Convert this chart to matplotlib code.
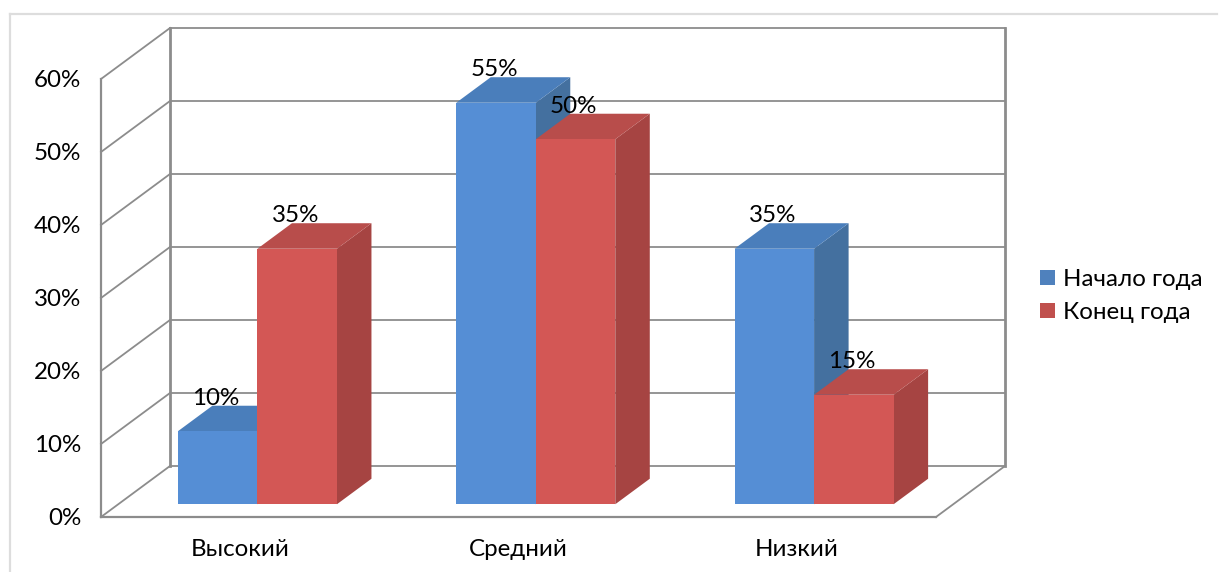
import matplotlib

matplotlib.use("Agg")
import matplotlib.pyplot as plt
from matplotlib.lines import Line2D
from matplotlib.patches import Patch, Polygon

plt.rcParams["font.family"] = ["Lato", "Noto Sans", "DejaVu Sans"]

categories = ["Высокий", "Средний", "Низкий"]
series_names = ["Начало года", "Конец года"]
start_of_year = [10, 55, 35]
end_of_year = [35, 50, 15]
value_ticks = [0, 10, 20, 30, 40, 50, 60]

# oblique projection: one unit of depth moves this far in data units
DEPTH_X = 0.248
DEPTH_Y = 6.99
BAR_WIDTH = 1 / 3.5
FONT_SIZE = 17.4
GRID = "#8c8c8c"
FACES = [
    {"front": "#558ed5", "top": "#4a7ebb", "side": "#44709f", "key": "#4f81bd"},
    {"front": "#d35755", "top": "#b84d4b", "side": "#a64442", "key": "#c0504d"},
]


def project(x, value, depth):
    return x + depth * DEPTH_X, value + depth * DEPTH_Y


def draw_line(ax, a, b, width=1.3, color=GRID):
    ax.add_line(
        Line2D([a[0], b[0]], [a[1], b[1]], color=color, lw=width,
               solid_capstyle="projecting", zorder=1)
    )


def draw_box(ax, left, value, faces):
    right = left + BAR_WIDTH
    front = [project(left, 0, 0.25), project(right, 0, 0.25),
             project(right, value, 0.25), project(left, value, 0.25)]
    top = [project(left, value, 0.25), project(right, value, 0.25),
           project(right, value, 0.75), project(left, value, 0.75)]
    side = [project(right, 0, 0.25), project(right, 0, 0.75),
            project(right, value, 0.75), project(right, value, 0.25)]
    ax.add_patch(Polygon(side, fc=faces["side"], ec="none", zorder=2))
    ax.add_patch(Polygon(top, fc=faces["top"], ec="none", zorder=2))
    ax.add_patch(Polygon(front, fc=faces["front"], ec="none", zorder=2))


fig = plt.figure(figsize=(12.19, 5.72), dpi=100)
ax = fig.add_axes([0, 0, 1, 1])
ax.set_xlim(-101 / 278.33, 1118 / 278.33)
ax.set_ylim(-55 / 7.3, 517 / 7.3)
ax.axis("off")

# outer chart frame, only the top and left edges show
fig.add_artist(Line2D([9.5 / 1219, 9.5 / 1219], [0, 558 / 572], color="#dddddd", lw=1.6))
fig.add_artist(Line2D([9.5 / 1219, 1217 / 1219], [558 / 572, 558 / 572], color="#dddddd", lw=1.6))

n_cat = len(categories)
top_value = value_ticks[-1]

# walls and floor
for tick in value_ticks:
    draw_line(ax, project(0, tick, 0), project(0, tick, 1))
    draw_line(ax, project(0, tick, 1), project(n_cat, tick, 1))
draw_line(ax, project(0, 0, 0), project(0, top_value, 0), 1.6)
draw_line(ax, project(0, 0, 1), project(0, top_value, 1), 2)
draw_line(ax, project(n_cat, 0, 1), project(n_cat, top_value, 1), 2)
draw_line(ax, project(0, 0, 0), project(n_cat, 0, 0), 1.6)
draw_line(ax, project(n_cat, 0, 0), project(n_cat, 0, 1))

for tick in value_ticks:
    ax.text(-20 / 278.33, tick - 0.2, f"{tick}%", ha="right", va="center",
            fontsize=FONT_SIZE, color="black")

# bars, left to right so that nearer faces cover the ones behind
for i, name in enumerate(categories):
    left = i + 0.5 - BAR_WIDTH
    for j, values in enumerate([start_of_year, end_of_year]):
        draw_box(ax, left + j * BAR_WIDTH, values[i], FACES[j])
    ax.text(i + 0.5, -4.5, name, ha="center", va="center",
            fontsize=FONT_SIZE, color="black")

for i in range(n_cat):
    left = i + 0.5 - BAR_WIDTH
    for j, values in enumerate([start_of_year, end_of_year]):
        x, y = project(left + (j + 0.5) * BAR_WIDTH, values[i], 0.25)
        ax.text(x - 2 / 278.33, y + 4.5, f"{values[i]}%", ha="center", va="center",
                fontsize=FONT_SIZE, color="black", zorder=3)

handles = [Patch(fc=f["key"], ec="none", label=n) for f, n in zip(FACES, series_names)]
ax.legend(
    handles=handles,
    loc="center left",
    bbox_to_anchor=(1040 / 1219, 276 / 572),
    frameon=False,
    fontsize=FONT_SIZE,
    borderpad=0,
    borderaxespad=0,
    labelspacing=0.5,
    handlelength=0.62,
    handleheight=0.62,
    handletextpad=0.33,
)

fig.savefig("out.png", dpi=100)
